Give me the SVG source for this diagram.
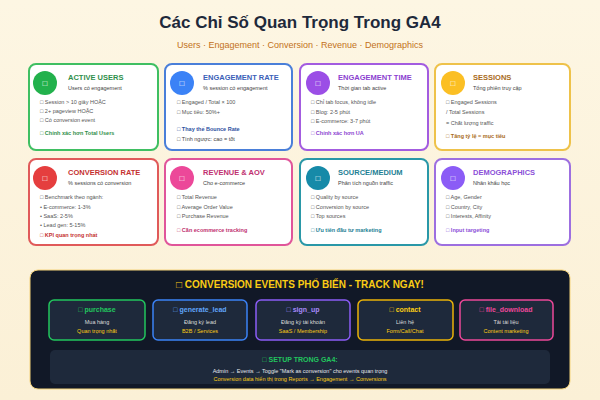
<svg xmlns="http://www.w3.org/2000/svg" width="600" height="400" viewBox="0 0 600 400">
<style>
text{font-family:"Liberation Sans",Arial,sans-serif}
.card{fill:#fff;stroke-width:2}
.t{font-size:7.5px;font-weight:bold}
.s{font-size:5.5px;fill:#444}
.b{font-size:5.5px;fill:#555}
.k{font-size:5.5px;font-weight:bold}
.ic{font-size:8px;fill:#fff;text-anchor:middle}
.ev{fill:#1e293b;stroke-width:1.5}
.en{font-size:7px;font-weight:bold;text-anchor:middle}
.ed{font-size:5.5px;fill:#ddd;text-anchor:middle}
.eg{font-size:5.5px;fill:#facc15;text-anchor:middle}
</style>
<defs><linearGradient id="bg" x1="0" y1="0" x2="0" y2="1"><stop offset="0" stop-color="#fdf6e3"/><stop offset="1" stop-color="#fbf0d6"/></linearGradient></defs>
<rect width="600" height="400" fill="url(#bg)"/>
<text x="300" y="28" text-anchor="middle" font-size="17" font-weight="bold" fill="#1e293b">Các Chỉ Số Quan Trọng Trong GA4</text>
<text x="300" y="48" text-anchor="middle" font-size="9" fill="#c2711a">Users · Engagement · Conversion · Revenue · Demographics</text>

<g id="active-users"><rect class="card" x="29" y="64" width="129" height="86" rx="7" stroke="#3fbf62"/><circle cx="45" cy="83" r="12" fill="#22b14c"/><text class="ic" x="45" y="86">□</text><text class="t" x="68" y="80" fill="#2f8f4a">ACTIVE USERS</text><text class="s" x="68" y="90">Users có engagement</text><text class="b" x="40" y="104">□ Session &gt; 10 giây HOẶC</text><text class="b" x="40" y="113">□ 2+ pageview HOẶC</text><text class="b" x="40" y="122">□ Có conversion event</text><text class="k" x="40" y="135" fill="#2f8f4a">□ Chính xác hơn Total Users</text></g>

<g id="engagement-rate"><rect class="card" x="165" y="64" width="127" height="86" rx="7" stroke="#4a7fd9"/><circle cx="182" cy="83" r="12" fill="#3b82f6"/><text class="ic" x="182" y="86">□</text><text class="t" x="203" y="80" fill="#3b5fb8">ENGAGEMENT RATE</text><text class="s" x="203" y="90">% session có engagement</text><text class="b" x="177" y="104">□ Engaged / Total × 100</text><text class="b" x="177" y="114">□ Mục tiêu: 50%+</text><text class="k" x="177" y="131" fill="#2d4fa0">□ Thay thế Bounce Rate</text><text class="s" x="177" y="141" fill="#e05555">□ Tính ngược: cao = tốt</text></g>

<g id="engagement-time"><rect class="card" x="300" y="64" width="128" height="86" rx="7" stroke="#a35ce0"/><circle cx="318" cy="83" r="12" fill="#9b4ee6"/><text class="ic" x="318" y="86">□</text><text class="t" x="338" y="80" fill="#8b3fd0">ENGAGEMENT TIME</text><text class="s" x="338" y="90">Thời gian tab active</text><text class="b" x="311" y="104">□ Chỉ tab focus, không idle</text><text class="b" x="311" y="114">□ Blog: 2-5 phút</text><text class="b" x="311" y="123">□ E-commerce: 3-7 phút</text><text class="k" x="311" y="135" fill="#8b3fd0">□ Chính xác hơn UA</text></g>

<g id="sessions"><rect class="card" x="435" y="64" width="135" height="86" rx="7" stroke="#eec24a"/><circle cx="453" cy="83" r="12" fill="#fbbf24"/><text class="ic" x="453" y="86">□</text><text class="t" x="473" y="80" fill="#a86b1a">SESSIONS</text><text class="s" x="473" y="90">Tổng phiên truy cập</text><text class="b" x="446" y="104">□ Engaged Sessions</text><text class="b" x="446" y="114">/ Total Sessions</text><text class="b" x="446" y="125">= Chất lượng traffic</text><text class="k" x="446" y="138" fill="#a86b1a">□ Tăng tỷ lệ = mục tiêu</text></g>

<g id="conversion-rate"><rect class="card" x="29" y="159" width="129" height="86" rx="7" stroke="#e05a5a"/><circle cx="45" cy="178" r="12" fill="#e53e3e"/><text class="ic" x="45" y="181">□</text><text class="t" x="68" y="175" fill="#c53030">CONVERSION RATE</text><text class="s" x="68" y="185">% sessions có conversion</text><text class="b" x="40" y="199">□ Benchmark theo ngành:</text><text class="b" x="40" y="209">• E-commerce: 1-3%</text><text class="b" x="40" y="218">• SaaS: 2-5%</text><text class="b" x="40" y="227">• Lead gen: 5-15%</text><text class="k" x="40" y="237" fill="#c53030">□ KPI quan trọng nhất</text></g>

<g id="revenue-aov"><rect class="card" x="165" y="159" width="127" height="86" rx="7" stroke="#e0559a"/><circle cx="182" cy="178" r="12" fill="#ec4899"/><text class="ic" x="182" y="181">□</text><text class="t" x="203" y="175" fill="#c0306f">REVENUE &amp; AOV</text><text class="s" x="203" y="185">Cho e-commerce</text><text class="b" x="177" y="199">□ Total Revenue</text><text class="b" x="177" y="209">□ Average Order Value</text><text class="b" x="177" y="218">□ Purchase Revenue</text><text class="k" x="177" y="232" fill="#c0306f">□ Cần ecommerce tracking</text></g>

<g id="source-medium"><rect class="card" x="300" y="159" width="128" height="86" rx="7" stroke="#2a98a8"/><circle cx="318" cy="178" r="12" fill="#168aa8"/><text class="ic" x="318" y="181">□</text><text class="t" x="338" y="175" fill="#1e7f95">SOURCE/MEDIUM</text><text class="s" x="338" y="185">Phân tích nguồn traffic</text><text class="b" x="311" y="199">□ Quality by source</text><text class="b" x="311" y="209">□ Conversion by source</text><text class="b" x="311" y="218">□ Top sources</text><text class="k" x="311" y="232" fill="#1e7f95">□ Ưu tiên đầu tư marketing</text></g>

<g id="demographics"><rect class="card" x="435" y="159" width="135" height="86" rx="7" stroke="#9d6fe0"/><circle cx="453" cy="178" r="12" fill="#8b5cf6"/><text class="ic" x="453" y="181">□</text><text class="t" x="473" y="175" fill="#8b4fd8">DEMOGRAPHICS</text><text class="s" x="473" y="185">Nhân khẩu học</text><text class="b" x="446" y="199">□ Age, Gender</text><text class="b" x="446" y="209">□ Country, City</text><text class="b" x="446" y="218">□ Interests, Affinity</text><text class="k" x="446" y="232" fill="#8b4fd8">□ Input targeting</text></g>

<g id="conversion-events">
<rect x="30" y="270" width="540" height="119" rx="8" fill="#111827" stroke="#f5d37a" stroke-width="1"/>
<text x="300" y="288" text-anchor="middle" font-size="10" font-weight="bold" fill="#facc15">□ CONVERSION EVENTS PHỔ BIẾN - TRACK NGAY!</text>
<g id="ev-purchase"><rect class="ev" x="49" y="300" width="96" height="40" rx="5" stroke="#22c55e"/><text class="en" x="97" y="312" fill="#22c55e">□ purchase</text><text class="ed" x="97" y="324">Mua hàng</text><text class="eg" x="97" y="333">Quan trọng nhất</text></g>
<g id="ev-lead"><rect class="ev" x="153" y="300" width="94" height="40" rx="5" stroke="#3b82f6"/><text class="en" x="200" y="312" fill="#60a5fa">□ generate_lead</text><text class="ed" x="200" y="324">Đăng ký lead</text><text class="eg" x="200" y="333">B2B / Services</text></g>
<g id="ev-signup"><rect class="ev" x="256" y="300" width="94" height="40" rx="5" stroke="#8b5cf6"/><text class="en" x="303" y="312" fill="#a78bfa">□ sign_up</text><text class="ed" x="303" y="324">Đăng ký tài khoản</text><text class="eg" x="303" y="333">SaaS / Membership</text></g>
<g id="ev-contact"><rect class="ev" x="358" y="300" width="95" height="40" rx="5" stroke="#eab308"/><text class="en" x="405" y="312" fill="#facc15">□ contact</text><text class="ed" x="405" y="324">Liên hệ</text><text class="eg" x="405" y="333">Form/Call/Chat</text></g>
<g id="ev-download"><rect class="ev" x="460" y="300" width="93" height="40" rx="5" stroke="#ec4899"/><text class="en" x="506" y="312" fill="#ec4899">□ file_download</text><text class="ed" x="506" y="324">Tải tài liệu</text><text class="eg" x="506" y="333">Content marketing</text></g>
<g id="setup"><rect x="50" y="350" width="500" height="34" rx="5" fill="#1e293b"/><text x="300" y="362" text-anchor="middle" font-size="7" font-weight="bold" fill="#22c55e">□ SETUP TRONG GA4:</text><text x="300" y="373" text-anchor="middle" font-size="5.5" fill="#e5e7eb">Admin → Events → Toggle "Mark as conversion" cho events quan trọng</text><text x="300" y="381" text-anchor="middle" font-size="5.5" fill="#facc15">Conversion data hiển thị trong Reports → Engagement → Conversions</text></g>
</g>
</svg>
